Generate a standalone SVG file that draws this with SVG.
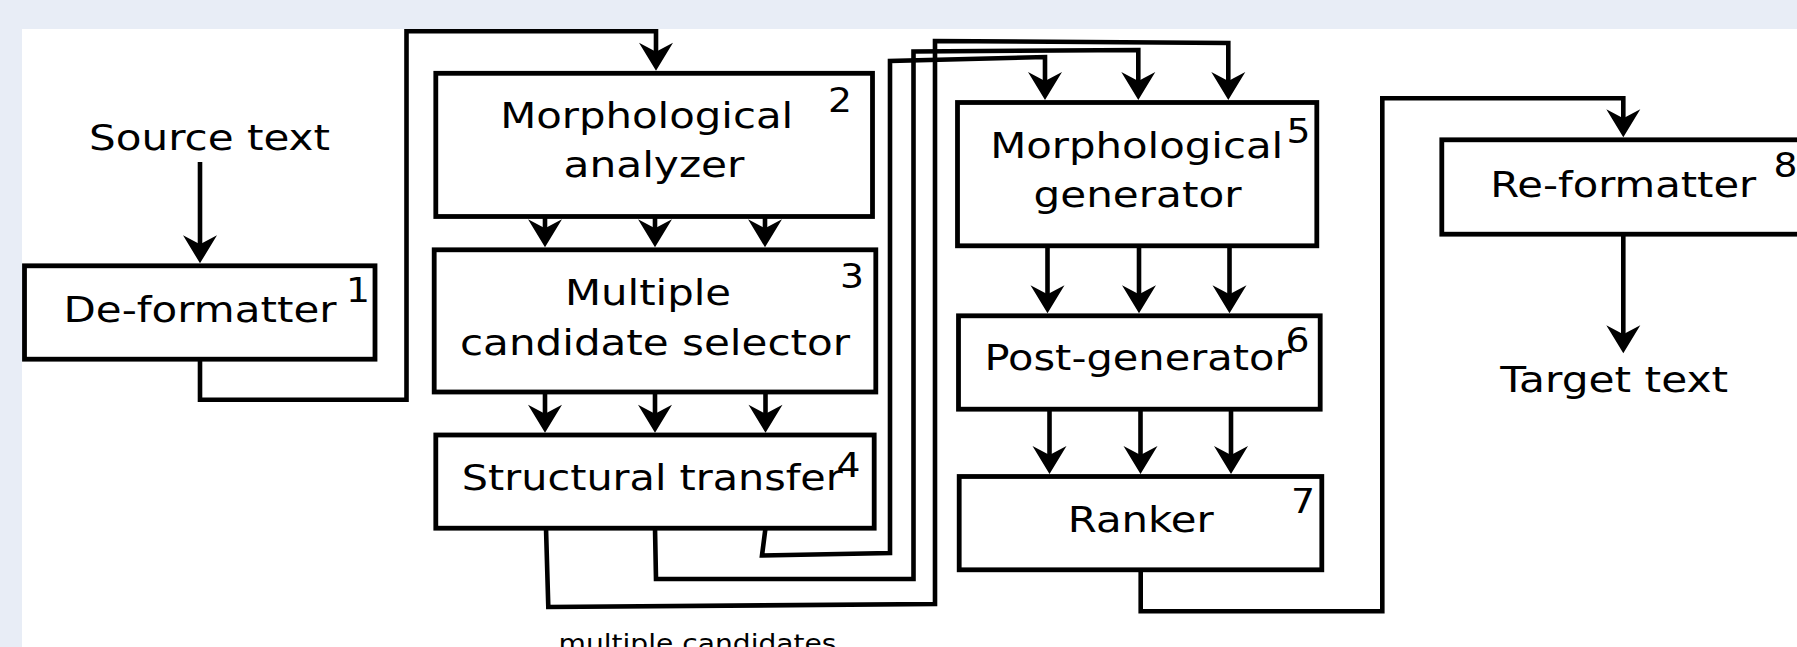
<svg xmlns="http://www.w3.org/2000/svg" width="1797" height="647" viewBox="0 0 1797 647">
<style>
.box{fill:#fff;stroke:#000;stroke-width:4.8}
.t{font-family:"DejaVu Sans",sans-serif;font-size:36px;fill:#000}
.n{font-family:"DejaVu Sans",sans-serif;font-size:34px;fill:#000}
.c{fill:none;stroke:#000;stroke-width:4.6;stroke-linejoin:miter;marker-end:url(#ah)}
.cn{fill:none;stroke:#000;stroke-width:4.6;stroke-linejoin:miter}
</style>
<defs>
<marker id="ah" viewBox="-30 -20 32 40" refX="-12" refY="0" markerWidth="32" markerHeight="40" markerUnits="userSpaceOnUse" orient="auto">
<path d="M0,0 L-28,-17 L-19,0 L-28,17 Z" fill="#000"/>
</marker>
</defs>
<rect x="0" y="0" width="1797" height="647" fill="#e8edf6"/>
<rect x="22" y="29" width="1775" height="618" fill="#fff"/>

<g id="connectors">
<path class="c" d="M200,162 V251.3"/>
<path class="c" d="M200,359 V399.7 H406.5 V31.3 H656 V58.7"/>
<path class="c" d="M545,216.5 V235.3"/>
<path class="c" d="M655,216.5 V235.3"/>
<path class="c" d="M765,216.5 V235.3"/>
<path class="c" d="M545,392 V420.7"/>
<path class="c" d="M655,392 V420.7"/>
<path class="c" d="M765.5,392 V420.7"/>
<path class="c" d="M546,528 L548.3,607 L935,604 L935,41 L1228.3,43 V88"/>
<path class="c" d="M655,528 L656,579 L913.5,579 L913.5,51.5 L1138.3,50 V88"/>
<path class="c" d="M765.5,528 L762,555.5 L890,553 L890,61 L1045,57 V88"/>
<path class="c" d="M1047.5,245.8 V301.3"/>
<path class="c" d="M1139,245.8 V301.3"/>
<path class="c" d="M1229.5,245.8 V301.3"/>
<path class="c" d="M1049.5,409.2 V462"/>
<path class="c" d="M1140.5,409.2 V462"/>
<path class="c" d="M1231,409.2 V462"/>
<path class="c" d="M1140.7,569.8 V611.3 H1382.3 V98.2 H1623.3 V125.3"/>
<path class="c" d="M1623.3,234.2 V341.3"/>
</g>

<g id="source-text">
<text class="t" x="89" y="150" textLength="241" lengthAdjust="spacingAndGlyphs">Source text</text>
</g>

<g id="node1">
<rect class="box" x="24.5" y="265.8" width="350.5" height="93.4"/>
<text class="t" x="63.5" y="321.7" textLength="273" lengthAdjust="spacingAndGlyphs">De-formatter</text>
<text class="n" x="346" y="302" textLength="24" lengthAdjust="spacingAndGlyphs">1</text>
</g>

<g id="node2">
<rect class="box" x="435.8" y="73.3" width="436.7" height="143.2"/>
<text class="t" x="500.2" y="128.3" textLength="293" lengthAdjust="spacingAndGlyphs">Morphological</text>
<text class="t" x="563.5" y="176.7" textLength="181" lengthAdjust="spacingAndGlyphs">analyzer</text>
<text class="n" x="828" y="111.7" textLength="24" lengthAdjust="spacingAndGlyphs">2</text>
</g>

<g id="node3">
<rect class="box" x="434.2" y="249.8" width="441.6" height="142.2"/>
<text class="t" x="565" y="305" textLength="166" lengthAdjust="spacingAndGlyphs">Multiple</text>
<text class="t" x="460" y="355" textLength="390" lengthAdjust="spacingAndGlyphs">candidate selector</text>
<text class="n" x="840" y="288.3" textLength="24" lengthAdjust="spacingAndGlyphs">3</text>
</g>

<g id="node4">
<rect class="box" x="435.8" y="435" width="438.4" height="93.2"/>
<text class="t" x="461.8" y="490" textLength="381" lengthAdjust="spacingAndGlyphs">Structural transfer</text>
<text class="n" x="836.5" y="476.7" textLength="24" lengthAdjust="spacingAndGlyphs">4</text>
</g>

<g id="node5">
<rect class="box" x="957.5" y="102.5" width="359.3" height="143.3"/>
<text class="t" x="990.2" y="158.3" textLength="293" lengthAdjust="spacingAndGlyphs">Morphological</text>
<text class="t" x="1033.5" y="206.7" textLength="208" lengthAdjust="spacingAndGlyphs">generator</text>
<text class="n" x="1286.5" y="143.3" textLength="24" lengthAdjust="spacingAndGlyphs">5</text>
</g>

<g id="node6">
<rect class="box" x="958.5" y="315.8" width="361.7" height="93.4"/>
<text class="t" x="984.5" y="370" textLength="307" lengthAdjust="spacingAndGlyphs">Post-generator</text>
<text class="n" x="1285.5" y="351.7" textLength="24" lengthAdjust="spacingAndGlyphs">6</text>
</g>

<g id="node7">
<rect class="box" x="959.2" y="476.5" width="362.6" height="93.3"/>
<text class="t" x="1067.8" y="531.7" textLength="146" lengthAdjust="spacingAndGlyphs">Ranker</text>
<text class="n" x="1291" y="513.3" textLength="24" lengthAdjust="spacingAndGlyphs">7</text>
</g>

<g id="node8">
<rect class="box" x="1441.8" y="139.8" width="400" height="94.4"/>
<text class="t" x="1490.2" y="196.7" textLength="266" lengthAdjust="spacingAndGlyphs">Re-formatter</text>
<text class="n" x="1773.5" y="176.7" textLength="24" lengthAdjust="spacingAndGlyphs">8</text>
</g>

<g id="target-text">
<text class="t" x="1500.2" y="391.7" textLength="228" lengthAdjust="spacingAndGlyphs">Target text</text>
</g>

<g id="multiple-candidates">
<text x="558.5" y="652" font-family="DejaVu Sans, sans-serif" font-size="24.6" textLength="278" lengthAdjust="spacingAndGlyphs">multiple candidates</text>
</g>
</svg>
